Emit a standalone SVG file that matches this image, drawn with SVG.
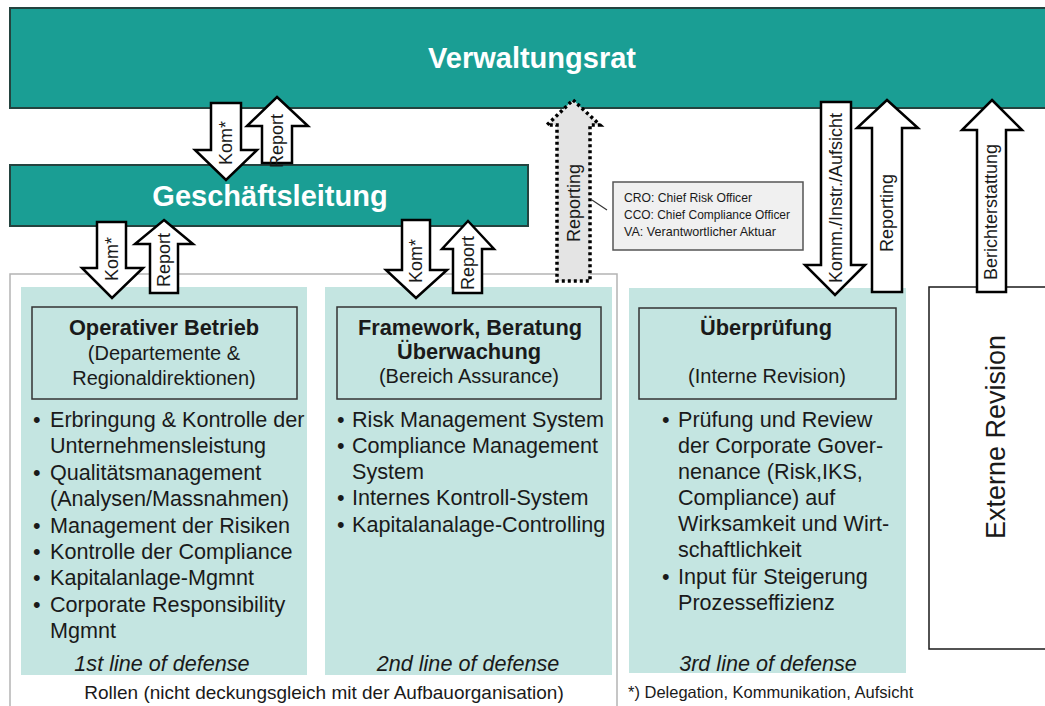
<svg xmlns="http://www.w3.org/2000/svg" width="1045" height="706" viewBox="0 0 1045 706">
  <defs>
    <style>
      text { font-family: "Liberation Sans", Arial, sans-serif; fill: #1a1a1a; }
      .board { fill: #1a9e94; stroke: #24433f; stroke-width: 2; }
      .board-title { fill: #ffffff; font-weight: bold; font-size: 29px; text-anchor: middle; }
      .roles { fill: none; stroke: #b4b4b4; stroke-width: 1.5; }
      .panel { fill: #c4e5e1; }
      .unit { fill: #c4e5e1; stroke: #333333; stroke-width: 1.5; }
      .unit-title { font-weight: bold; font-size: 21.8px; text-anchor: middle; }
      .unit-sub { font-size: 20px; text-anchor: middle; }
      .bullets { font-size: 21.6px; }
      .line-label { font-size: 21.6px; font-style: italic; text-anchor: middle; }
      .note { font-size: 16.5px; }
      .note-roles { font-size: 19px; text-anchor: middle; }
      .ext { fill: #ffffff; stroke: #1a1a1a; stroke-width: 1.5; }
      .ext-title { font-size: 27px; text-anchor: middle; }
      .arrow { fill: #ffffff; stroke: #000000; stroke-width: 2.5; stroke-linejoin: miter; }
      .arrow-dotted { fill: #e4e4e4; stroke: #000000; stroke-width: 3.5; stroke-dasharray: 3 3; }
      .arrow-label { font-size: 18px; text-anchor: middle; }
      .legend { fill: #f0f0f0; stroke: #555555; stroke-width: 1.5; }
      .legend-text { font-size: 13px; }
    </style>
  </defs>

  <rect width="1045" height="706" fill="#ffffff"/>

  <!-- Board of directors -->
  <g id="verwaltungsrat">
    <rect class="board" x="10" y="8" width="1045" height="100"/>
    <text class="board-title" x="532" y="68">Verwaltungsrat</text>
  </g>

  <!-- Executive board -->
  <g id="geschaeftsleitung">
    <rect class="board" x="10" y="165" width="518" height="61"/>
    <text class="board-title" x="270" y="206">Geschäftsleitung</text>
  </g>

  <!-- Roles frame (1st and 2nd line) -->
  <g id="rollen">
    <path class="roles" d="M10,710 V274 H617 V710"/>
    <text class="note-roles" x="324" y="699">Rollen (nicht deckungsgleich mit der Aufbauorganisation)</text>
  </g>

  <!-- 1st line of defense -->
  <g id="line1">
    <rect class="panel" x="21" y="287" width="286" height="388"/>
    <rect class="unit" x="32" y="307" width="265" height="92"/>
    <text class="unit-title" x="164" y="335">Operativer Betrieb</text>
    <text class="unit-sub" x="164" y="360">(Departemente &amp;</text>
    <text class="unit-sub" x="164" y="385">Regionaldirektionen)</text>
    <text class="bullets">
      <tspan x="33" y="427">•</tspan><tspan x="50" y="427">Erbringung &amp; Kontrolle der</tspan>
      <tspan x="50" y="453">Unternehmensleistung</tspan>
      <tspan x="33" y="480">•</tspan><tspan x="50" y="480">Qualitätsmanagement</tspan>
      <tspan x="50" y="506">(Analysen/Massnahmen)</tspan>
      <tspan x="33" y="533">•</tspan><tspan x="50" y="533">Management der Risiken</tspan>
      <tspan x="33" y="559">•</tspan><tspan x="50" y="559">Kontrolle der Compliance</tspan>
      <tspan x="33" y="585">•</tspan><tspan x="50" y="585">Kapitalanlage-Mgmnt</tspan>
      <tspan x="33" y="612">•</tspan><tspan x="50" y="612">Corporate Responsibility</tspan>
      <tspan x="50" y="638">Mgmnt</tspan>
    </text>
    <text class="line-label" x="162" y="671">1st line of defense</text>
  </g>

  <!-- 2nd line of defense -->
  <g id="line2">
    <rect class="panel" x="325" y="287" width="287" height="388"/>
    <rect class="unit" x="337" y="307" width="264" height="92"/>
    <text class="unit-title" x="470" y="335">Framework, Beratung</text>
    <text class="unit-title" x="469" y="359">Überwachung</text>
    <text class="unit-sub" x="469" y="383">(Bereich Assurance)</text>
    <text class="bullets">
      <tspan x="337" y="427">•</tspan><tspan x="352" y="427">Risk Management System</tspan>
      <tspan x="337" y="453">•</tspan><tspan x="352" y="453">Compliance Management</tspan>
      <tspan x="352" y="479">System</tspan>
      <tspan x="337" y="505">•</tspan><tspan x="352" y="505">Internes Kontroll-System</tspan>
      <tspan x="337" y="532">•</tspan><tspan x="352" y="532">Kapitalanalage-Controlling</tspan>
    </text>
    <text class="line-label" x="468" y="671">2nd line of defense</text>
  </g>

  <!-- 3rd line of defense -->
  <g id="line3">
    <rect class="panel" x="629" y="288" width="277" height="385"/>
    <rect class="unit" x="639" y="308" width="257" height="91"/>
    <text class="unit-title" x="766" y="335">Überprüfung</text>
    <text class="unit-sub" x="767" y="383">(Interne Revision)</text>
    <text class="bullets">
      <tspan x="662" y="427">•</tspan><tspan x="678" y="427">Prüfung und Review</tspan>
      <tspan x="678" y="453">der Corporate Gover-</tspan>
      <tspan x="678" y="479">nenance (Risk,IKS,</tspan>
      <tspan x="678" y="505">Compliance) auf</tspan>
      <tspan x="678" y="531">Wirksamkeit und Wirt-</tspan>
      <tspan x="678" y="557">schaftlichkeit</tspan>
      <tspan x="662" y="584">•</tspan><tspan x="678" y="584">Input für Steigerung</tspan>
      <tspan x="678" y="610">Prozesseffizienz</tspan>
    </text>
    <text class="line-label" x="768" y="671">3rd line of defense</text>
    <text class="note" x="628" y="698">*) Delegation, Kommunikation, Aufsicht</text>
  </g>

  <!-- External audit -->
  <g id="externe-revision">
    <rect class="ext" x="929" y="287" width="130" height="362"/>
    <text class="ext-title" transform="translate(995,437) rotate(-90)" dy="0.36em">Externe Revision</text>
  </g>

  <!-- Block arrows between the bodies -->
  <g id="connectors">
    <!-- VR -> GL -->
    <path class="arrow" d="M211,103 H241 V150 H257 L226,180 L195,150 H211 Z"/>
    <text class="arrow-label" transform="translate(226,143) rotate(-90)" dy="0.36em">Kom*</text>
    <path class="arrow" d="M277,97 L308,126 H292 V163 H262 V126 H247 Z"/>
    <text class="arrow-label" transform="translate(277,141) rotate(-90)" dy="0.36em">Report</text>

    <!-- GL -> 1st line -->
    <path class="arrow" d="M97,222 H126 V268 H143 L112,298 L82,268 H97 Z"/>
    <text class="arrow-label" transform="translate(112,259) rotate(-90)" dy="0.36em">Kom*</text>
    <path class="arrow" d="M164,220 L193,244 H178 V293 H150 V244 H135 Z"/>
    <text class="arrow-label" transform="translate(164,260) rotate(-90)" dy="0.36em">Report</text>

    <!-- GL -> 2nd line -->
    <path class="arrow" d="M402,220 H430 V270 H447 L416,298 L386,270 H402 Z"/>
    <text class="arrow-label" transform="translate(416,261) rotate(-90)" dy="0.36em">Kom*</text>
    <path class="arrow" d="M468,221 L494,249 H482 V293 H453 V249 H442 Z"/>
    <text class="arrow-label" transform="translate(468,263) rotate(-90)" dy="0.36em">Report</text>

    <!-- 2nd line -> VR (dotted) -->
    <path class="arrow-dotted" d="M573,100 L600,125 H590 V281 H557 V125 H547 Z"/>
    <text class="arrow-label" transform="translate(574,203) rotate(-90)" dy="0.36em">Reporting</text>

    <!-- VR <-> 3rd line -->
    <path class="arrow" d="M821,102 H851 V265 H865 L835,295 L805,265 H821 Z"/>
    <text class="arrow-label" transform="translate(836,198) rotate(-90)" dy="0.36em">Komm./Instr./Aufsicht</text>
    <path class="arrow" d="M887,100 L918,128 H902 V292 H872 V128 H857 Z"/>
    <text class="arrow-label" transform="translate(887,213) rotate(-90)" dy="0.36em">Reporting</text>

    <!-- External audit -> VR -->
    <path class="arrow" d="M992,100 L1022,130 H1006 V292 H977 V130 H962 Z"/>
    <text class="arrow-label" transform="translate(991,212) rotate(-90)" dy="0.36em">Berichterstattung</text>

    <!-- legend pointer -->
    <line x1="592" y1="200" x2="607" y2="210" stroke="#333333" stroke-width="1.2"/>
  </g>

  <!-- Abbreviations -->
  <g id="legende">
    <rect class="legend" x="613" y="182" width="190" height="68"/>
    <text class="legend-text" x="624" y="202" textLength="128" lengthAdjust="spacingAndGlyphs">CRO: Chief Risk Officer</text>
    <text class="legend-text" x="624" y="219" textLength="166" lengthAdjust="spacingAndGlyphs">CCO: Chief Compliance Officer</text>
    <text class="legend-text" x="624" y="236" textLength="152" lengthAdjust="spacingAndGlyphs">VA: Verantwortlicher Aktuar</text>
  </g>
</svg>
